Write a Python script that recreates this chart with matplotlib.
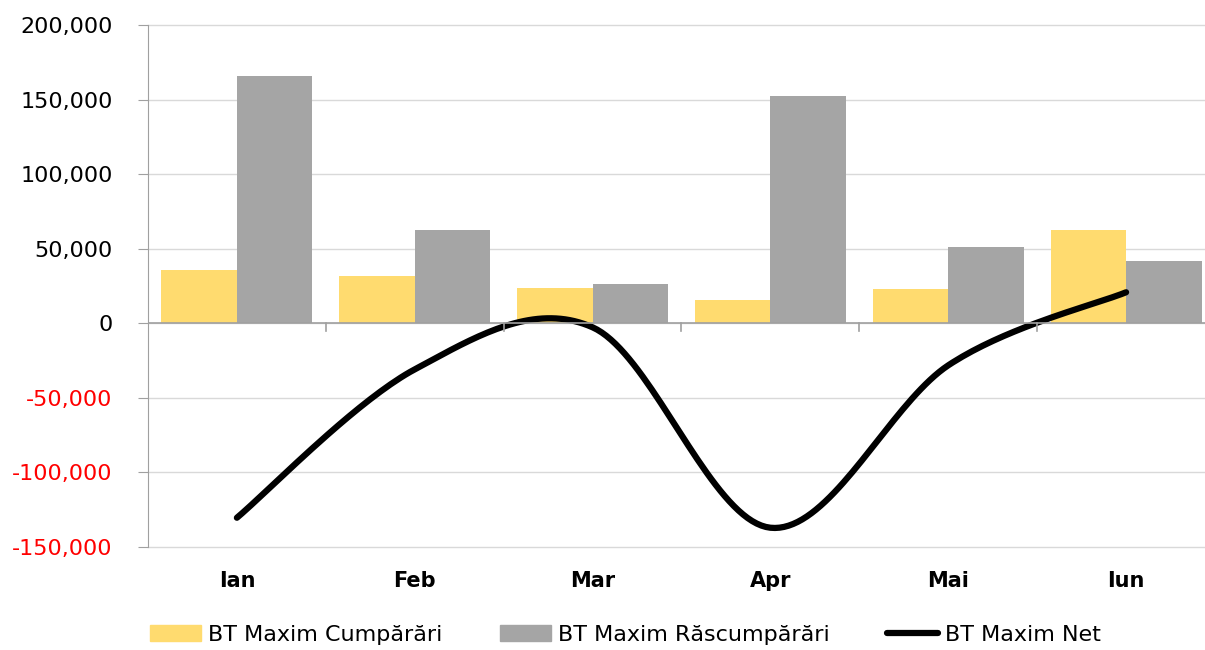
import numpy as np
import matplotlib.pyplot as plt
from matplotlib.lines import Line2D
from matplotlib.patches import Patch
from matplotlib.ticker import FuncFormatter

luni = ["Ian", "Feb", "Mar", "Apr", "Mai", "Iun"]
cumparari = [35600, 31500, 23500, 15400, 22800, 62400]
rascumparari = [166000, 62400, 26200, 152500, 51000, 41600]
net = [c - r for c, r in zip(cumparari, rascumparari)]

GALBEN = "#FFDB6F"
GRI = "#A5A5A5"


def netezire(x, y, n=40):
    # curba Bezier tip Catmull-Rom, ca linia "smoothed" din Excel
    p = np.column_stack([x, y]).astype(float)
    p = np.vstack([p[0], p, p[-1]])
    xs, ys = [], []
    t = np.linspace(0, 1, n)
    for i in range(1, len(p) - 2):
        p0, p1, p2, p3 = p[i - 1], p[i], p[i + 1], p[i + 2]
        c1 = p1 + (p2 - p0) / 6
        c2 = p2 - (p3 - p1) / 6
        b = ((1 - t) ** 3)[:, None] * p1 + (3 * (1 - t) ** 2 * t)[:, None] * c1 \
            + (3 * (1 - t) * t ** 2)[:, None] * c2 + (t ** 3)[:, None] * p2
        xs.extend(b[:, 0])
        ys.extend(b[:, 1])
    return np.array(xs), np.array(ys)


fig = plt.figure(figsize=(12.05, 6.5), dpi=100)
# zona graficului iese putin dincolo de marginea din dreapta
ax = fig.add_axes([0.1228, 0.1585, 0.8855, 0.803])

x = np.arange(len(luni))
w = 0.425
ax.bar(x - w / 2, cumparari, w, color=GALBEN, zorder=2)
ax.bar(x + w / 2, rascumparari, w, color=GRI, zorder=2)

sx, sy = netezire(x, net)
ax.plot(sx, sy, color="black", lw=4.5, solid_capstyle="round", zorder=3)

ax.set_xlim(-0.5, len(luni) - 0.5)
ax.set_ylim(-150000, 200000)
ax.set_yticks(np.arange(-150000, 200001, 50000))
ax.yaxis.set_major_formatter(FuncFormatter(lambda v, p: f"{int(v):,}"))
ax.grid(axis="y", color="#D9D9D9", lw=1, zorder=0)
for gl in ax.get_ygridlines():
    gl.set_clip_on(False)

for s in ["top", "right", "bottom"]:
    ax.spines[s].set_visible(False)
ax.spines["left"].set_color("#A0A0A0")
ax.axhline(0, color="#A0A0A0", lw=1.2, zorder=4)

ax.tick_params(axis="y", labelsize=16, length=7.5, color="#A0A0A0", pad=18)
for lbl in ax.get_yticklabels():
    if lbl.get_position()[1] < 0:
        lbl.set_color("red")

# categoriile sub grafic, liniutele pe axa de zero
ax.set_xticks([])
for xi, l in zip(x, luni):
    ax.text(xi, -172500, l, ha="center", va="center",
            fontsize=15, fontweight="bold")
for b in np.arange(0.5, len(luni) - 0.5, 1):
    ax.plot([b, b], [0, -5500], color="#A0A0A0", lw=1.2, zorder=4)

handles = [Patch(color=GALBEN), Patch(color=GRI),
           Line2D([], [], color="black", lw=4.5, solid_capstyle="round")]
labels = ["BT Maxim Cumpărări", "BT Maxim Răscumpărări", "BT Maxim Net"]
fig.legend(handles, labels, loc="center", bbox_to_anchor=(0.519, 0.023),
           ncol=3, frameon=False, fontsize=16, handlelength=2.3,
           handleheight=0.7, handletextpad=0.3, columnspacing=2.6)

fig.savefig("out.png", dpi=100)
